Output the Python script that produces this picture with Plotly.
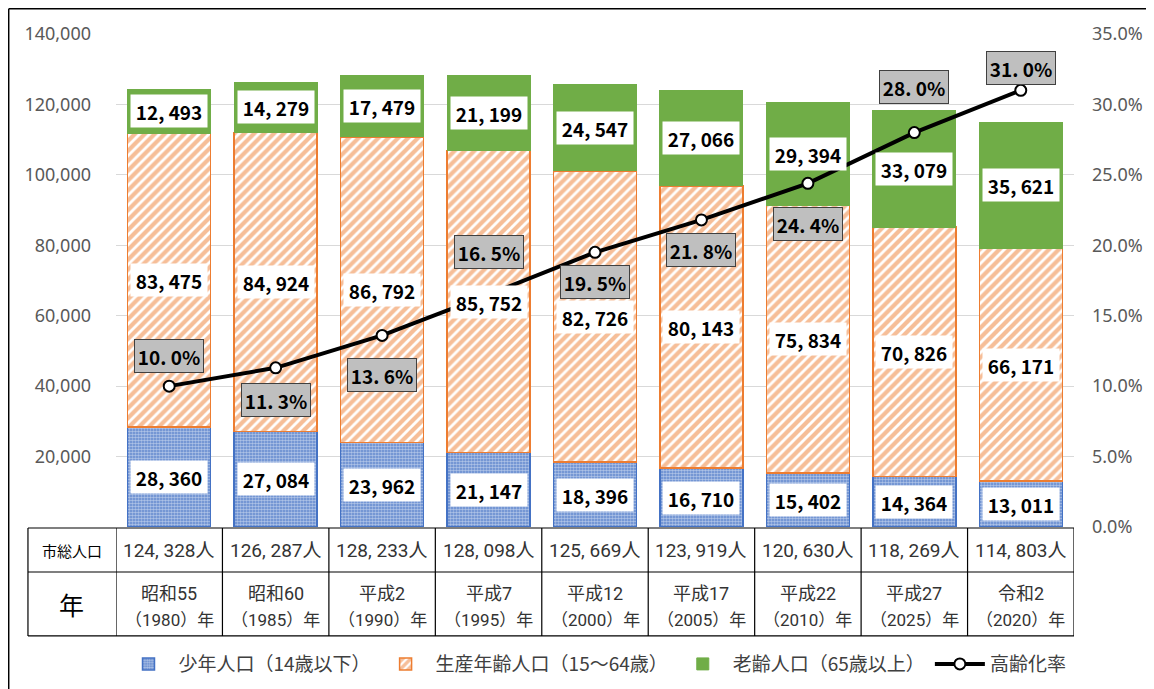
import plotly.graph_objects as go

# ---------------- data ----------------
eras = ["昭和55", "昭和60", "平成2", "平成7", "平成12", "平成17", "平成22", "平成27", "令和2"]
years = ["1980", "1985", "1990", "1995", "2000", "2005", "2010", "2025", "2020"]
youth = [28360, 27084, 23962, 21147, 18396, 16710, 15402, 14364, 13011]
working = [83475, 84924, 86792, 85752, 82726, 80143, 75834, 70826, 66171]
elderly = [12493, 14279, 17479, 21199, 24547, 27066, 29394, 33079, 35621]
total = [124328, 126287, 128233, 128098, 125669, 123919, 120630, 118269, 114803]
aging_rate = [10.0, 11.3, 13.6, 16.5, 19.5, 21.8, 24.4, 28.0, 31.0]
left_ticks = [20000, 40000, 60000, 80000, 100000, 120000, 140000]

names = ["少年人口（14歳以下）", "生産年齢人口（15～64歳）", "老齢人口（65歳以上）", "高齢化率"]
row_labels = ["市総人口", "年"]

# ---------------- style ----------------
rate_label_shift = [30, -32, -40, 43, -30, -30, -41, 46, 22]
BLUE = "#4472C4"
ORANGE = "#ED7D31"
GREEN = "#70AD47"
JP = "Noto Sans CJK JP"
NUM = "Roboto, Noto Sans CJK JP"

cats = [f"{e}（{y}）年" for e, y in zip(eras, years)]


def sep(v):
    return f"{v:,}".replace(",", ", ")


fig = go.Figure()
fig.add_trace(go.Bar(
    x=cats, y=youth, name=names[0],
    marker=dict(color=BLUE, line=dict(color=BLUE, width=1.5),
                pattern=dict(shape=".", fgcolor="white", bgcolor="#5B84CC", size=3, solidity=0.6)),
))
fig.add_trace(go.Bar(
    x=cats, y=working, name=names[1],
    marker=dict(color=ORANGE, line=dict(color=ORANGE, width=1.5),
                pattern=dict(shape="/", fgcolor=ORANGE, bgcolor="white", size=7, solidity=0.6)),
))
fig.add_trace(go.Bar(
    x=cats, y=elderly, name=names[2],
    marker=dict(color=GREEN, line=dict(color=GREEN, width=1)),
))
fig.add_trace(go.Scatter(
    x=cats, y=aging_rate, name=names[3], yaxis="y2", mode="lines+markers",
    line=dict(color="black", width=4),
    marker=dict(color="white", size=11, line=dict(color="black", width=2)),
))

annotations = []
# value labels in white boxes
for i, c in enumerate(cats):
    base = 0
    for series in (youth, working, elderly):
        v = series[i]
        annotations.append(dict(
            x=c, y=base + v / 2, xref="x", yref="y", text=sep(v), showarrow=False,
            xanchor="center", yanchor="middle",
            bgcolor="white", width=74, height=30, borderpad=1,
            font=dict(family=JP, size=19, color="black", weight="bold"),
        ))
        base += v
    annotations.append(dict(
        x=c, y=aging_rate[i], xref="x", yref="y2",
        text=f"{aging_rate[i]:.1f}".replace(".", ". ") + "%",
        showarrow=False, yshift=rate_label_shift[i], xanchor="center", yanchor="middle",
        bgcolor="#BFBFBF", bordercolor="#404040", borderwidth=1, width=66, height=30, borderpad=1,
        font=dict(family=JP, size=19, color="black", weight="bold"),
    ))

# table below the chart
ROW1_TOP, ROW1_BOT, ROW2_BOT = -0.002, -0.0913, -0.221
LEFT_COL = -0.0919
LINE_COLOR = dict(color="black", width=1.2)
shapes = []
for yv in (ROW1_TOP, ROW1_BOT, ROW2_BOT):
    shapes.append(dict(type="line", xref="paper", yref="paper", x0=LEFT_COL, x1=1, y0=yv, y1=yv,
                       line=LINE_COLOR))
shapes.append(dict(type="line", xref="paper", yref="paper", x0=LEFT_COL, x1=LEFT_COL,
                   y0=ROW1_TOP, y1=ROW2_BOT, line=LINE_COLOR))
for k in range(len(cats) + 1):
    shapes.append(dict(type="line", xref="x", yref="paper", x0=k - 0.5, x1=k - 0.5,
                       y0=ROW1_TOP, y1=ROW2_BOT, line=LINE_COLOR))
# outer frame (top and left edges)
shapes.append(dict(type="line", xref="paper", yref="paper", x0=-0.112, x1=1.09, y0=1.0512, y1=1.0512,
                   line=dict(color="black", width=1.5)))
shapes.append(dict(type="line", xref="paper", yref="paper", x0=-0.112, x1=-0.112, y0=1.0512, y1=-0.34,
                   line=dict(color="black", width=1.5)))

ROW1_MID = -0.0467
annotations.append(dict(x=LEFT_COL / 2, y=ROW1_MID, xref="paper", yref="paper",
                        xanchor="center", yanchor="middle",
                        text=row_labels[0], showarrow=False, font=dict(family=JP, size=15, color="black")))
annotations.append(dict(x=LEFT_COL / 2, y=-0.156, xref="paper", yref="paper",
                        xanchor="center", yanchor="middle",
                        text=row_labels[1], showarrow=False, font=dict(family=JP, size=25, color="black")))
for i, c in enumerate(cats):
    annotations.append(dict(x=c, y=ROW1_MID, xref="x", yref="paper", xanchor="center", yanchor="middle",
                            text=sep(total[i]) + "人", showarrow=False,
                            font=dict(family=NUM, size=19, color="#333333")))
    annotations.append(dict(x=c, y=-0.1339, xref="x", yref="paper", xanchor="center", yanchor="middle",
                            text=eras[i], showarrow=False,
                            font=dict(family=NUM, size=18, color="#333333")))
    annotations.append(dict(x=c, y=-0.1886, xref="x", yref="paper", xanchor="center", yanchor="middle",
                            text=f"（{years[i]}）年", showarrow=False,
                            font=dict(family=NUM, size=17, color="#333333")))

fig.update_layout(
    width=1146, height=681,
    margin=dict(l=108, r=80, t=26, b=162, autoexpand=False),
    paper_bgcolor="white", plot_bgcolor="white",
    barmode="stack", bargap=0.22,
    showlegend=True,
    legend=dict(orientation="h", x=0.5, xanchor="center", y=-0.278, yanchor="middle",
                traceorder="normal", font=dict(family=JP, size=19, color="#404040"),
                itemwidth=50),
    xaxis=dict(type="category", range=[-0.5, 8.5], showticklabels=False, showgrid=False,
               zeroline=False, showline=False, ticks=""),
    yaxis=dict(range=[0, 140000], tickvals=left_ticks, tickformat=",", showgrid=True, gridcolor="#D9D9D9",
               gridwidth=1, zeroline=False, ticklabelstandoff=24,
               tickfont=dict(family="Noto Sans", size=18, color="#595959")),
    yaxis2=dict(range=[0, 35], dtick=5, tickformat=".1f", ticksuffix="%", overlaying="y", side="right",
                showgrid=False, zeroline=False, ticklabelstandoff=17,
                tickfont=dict(family="Noto Sans", size=18, color="#595959")),
    annotations=annotations,
    shapes=shapes,
)

fig.write_html("out.html")
